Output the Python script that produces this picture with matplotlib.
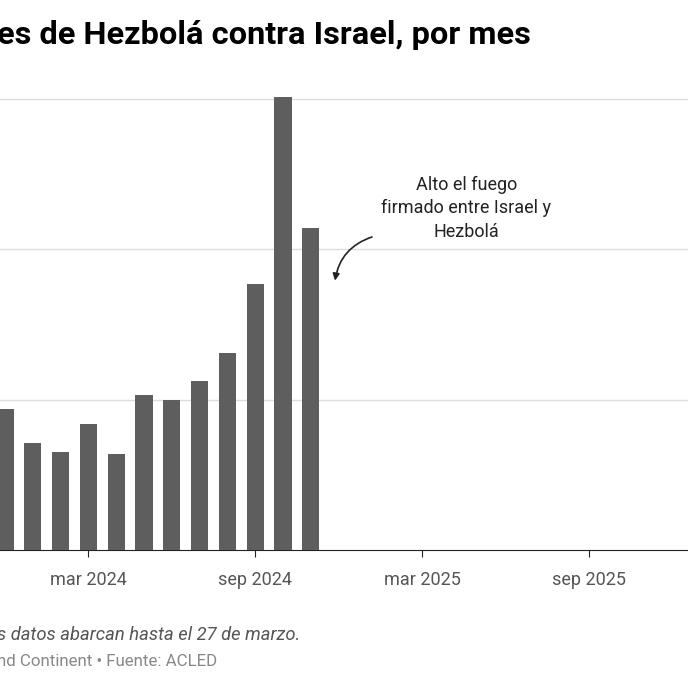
import matplotlib.pyplot as plt

plt.rcParams['font.family'] = ['Roboto', 'DejaVu Sans']

# meses desde dic 2023
months = list(range(12))
attacks = [94, 71, 65, 84, 64, 103, 100, 112, 131, 177, 301, 214]
tick_pos = [3, 9, 15, 21]
tick_labels = ['mar 2024', 'sep 2024', 'mar 2025', 'sep 2025']

def plot_chart():
    fig = plt.figure(figsize=(6.88, 6.88), dpi=100)
    left_px, right_px = -300, 700
    ax = fig.add_axes([left_px / 688, 1 - 550 / 688, (right_px - left_px) / 688, 460 / 688])
    ax.bar(months, attacks, width=0.62, color='#5e5e5e', zorder=3)
    ax.set_xlim((left_px - 5) / 27.8, (right_px - 5) / 27.8)
    ax.set_ylim(0, 460 / 1.505)
    ax.set_yticks([100, 200, 300])
    ax.yaxis.grid(True, color='#dddddd', linewidth=1, zorder=0)
    ax.tick_params(axis='y', left=False, labelleft=False)
    ax.set_xticks(tick_pos)
    ax.set_xticklabels(tick_labels, fontsize=13, color='#555555')
    ax.tick_params(axis='x', length=5, color='#222222', pad=10)
    for s in ['top', 'right', 'left']:
        ax.spines[s].set_visible(False)
    ax.spines['bottom'].set_color('#222222')
    ax.text(16.6, 227, 'Alto el fuego\nfirmado entre Israel y\nHezbolá',
            ha='center', va='center', fontsize=13, color='#222222', linespacing=1.4)
    ax.annotate('', xy=(11.87, 179), xytext=(13.2, 208),
                arrowprops=dict(arrowstyle='-|>', color='#222222', lw=1.2,
                                connectionstyle='arc3,rad=0.3', shrinkA=0, shrinkB=0))
    fig.text(-0.004, 1 - 35 / 688, 'es de Hezbolá contra Israel, por mes', fontsize=23.4,
             fontweight='bold', va='center', ha='left')
    fig.text(-0.004, 1 - 635 / 688, 's datos abarcan hasta el 27 de marzo.', fontsize=13.2,
             style='italic', color='#555555', va='center')
    fig.text(-0.004, 1 - 662 / 688, 'nd Continent • Fuente: ACLED', fontsize=12.2,
             color='#888888', va='center')
    fig.savefig('out.png', dpi=100)

plot_chart()
